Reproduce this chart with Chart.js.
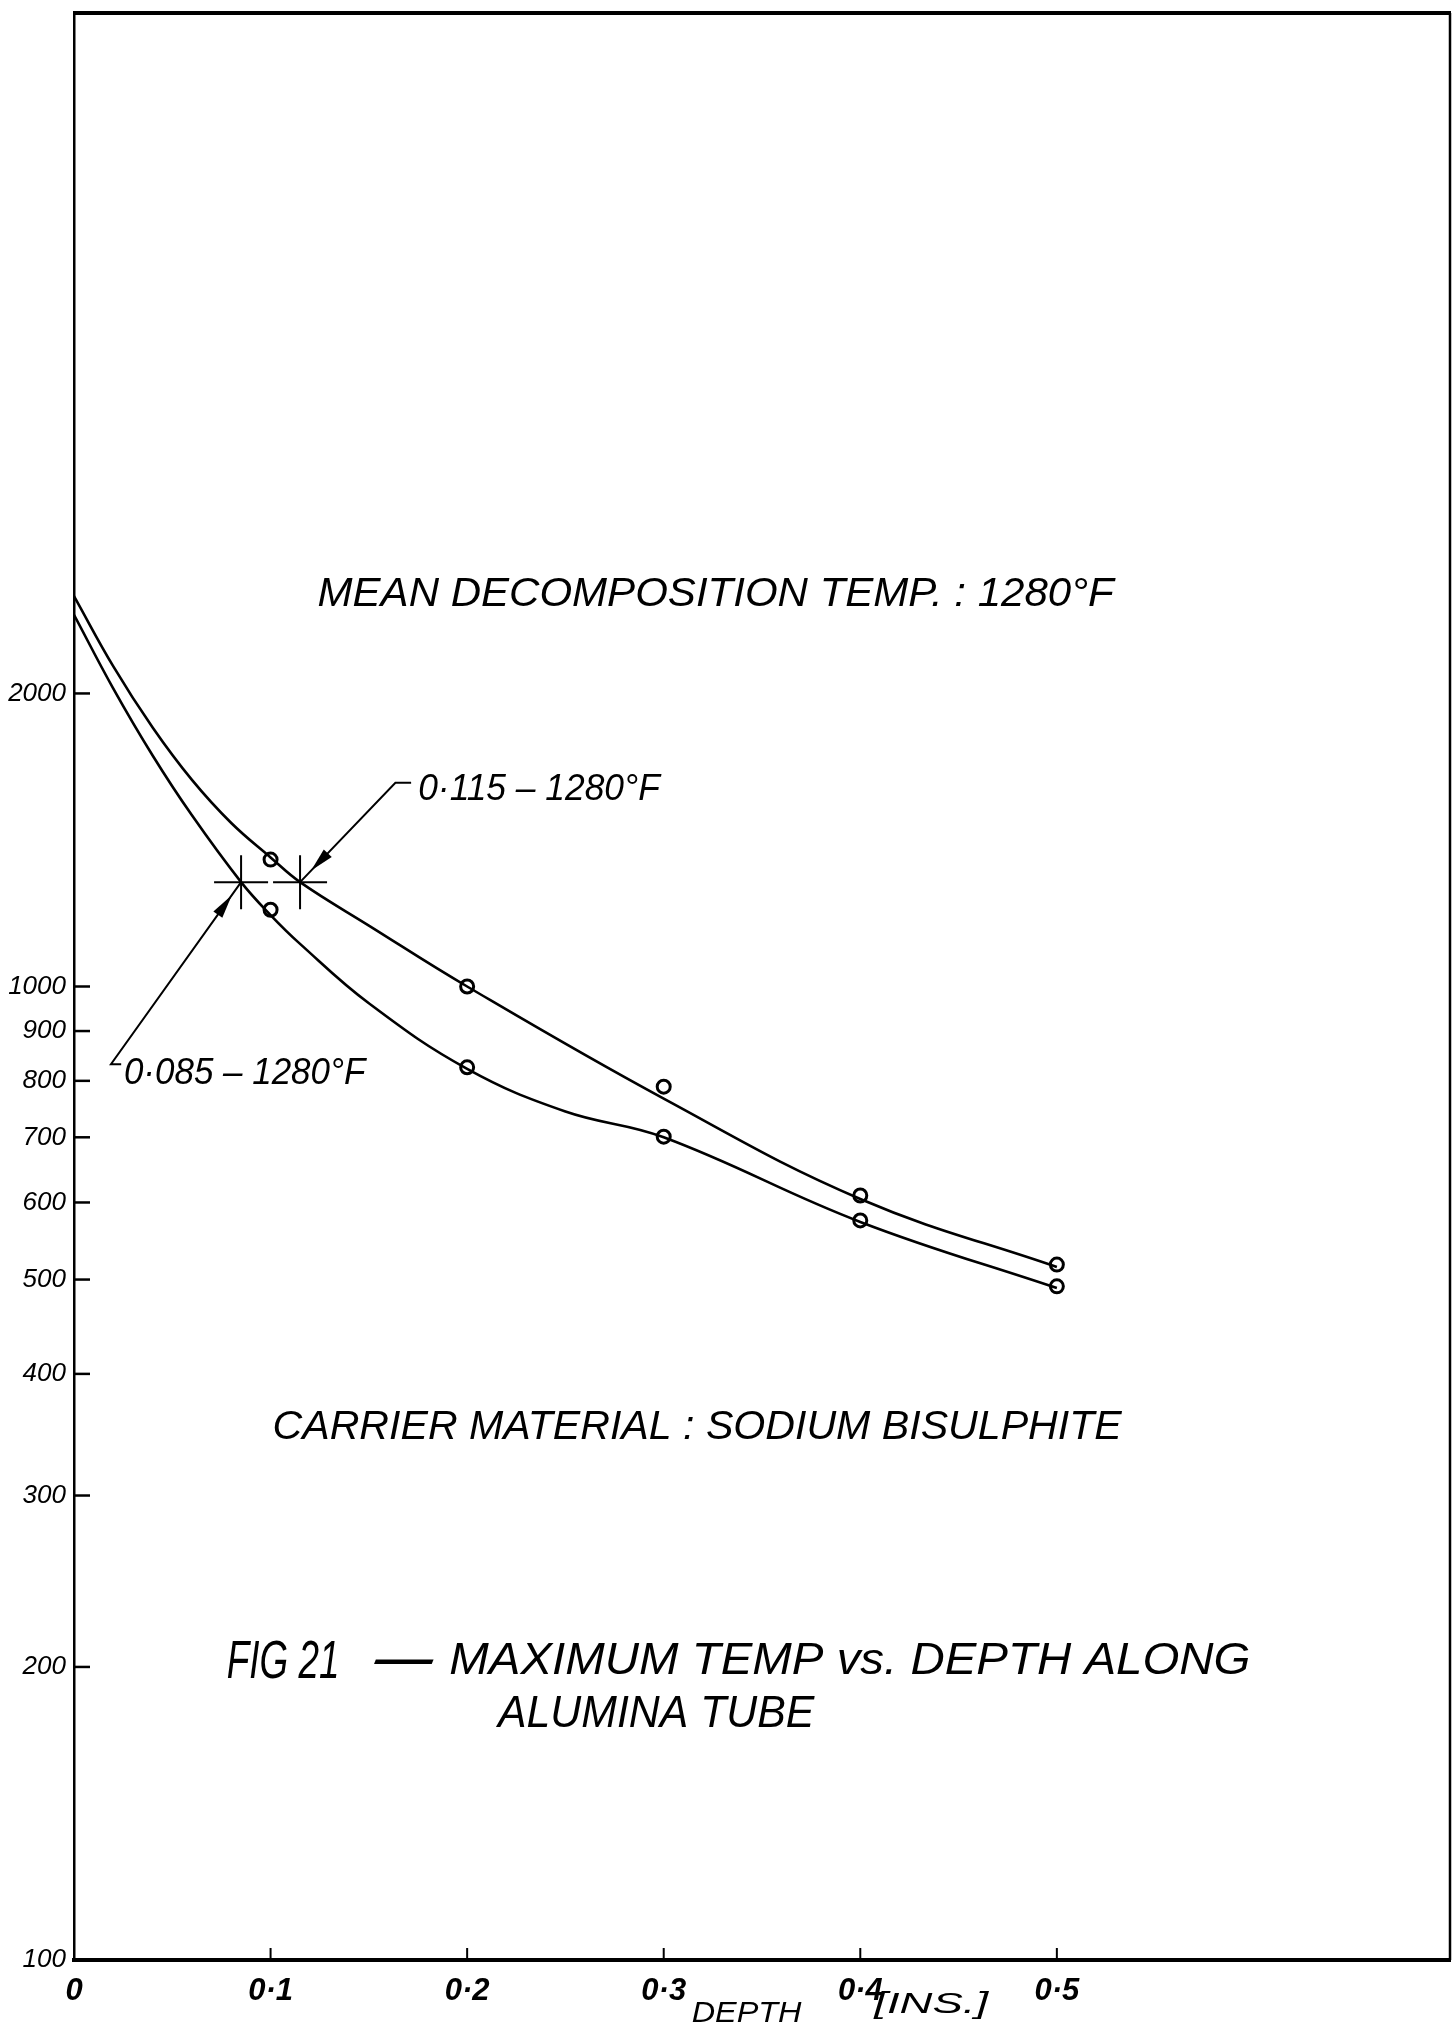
<!DOCTYPE html>
<html>
<head>
<meta charset="utf-8">
<script src="https://cdn.jsdelivr.net/npm/chart.js@4.4.1/dist/chart.umd.min.js"></script>
<style>
  html, body { margin: 0; padding: 0; background: #fff; }
  #wrap { width: 1455px; height: 2028px; }
</style>
</head>
<body>
<div id="wrap"><canvas id="fig21" width="1455" height="2028"></canvas></div>
<script>
// Axis ticks
const depthTicks = [0, 0.1, 0.2, 0.3, 0.4, 0.5];
const tempTicks = [100, 200, 300, 400, 500, 600, 700, 800, 900, 1000, 2000];

// Measured maximum temperatures (deg F) at each depth (ins.)
const depthMeasured = [0.1, 0.2, 0.3, 0.4, 0.5];
const tempUpper = [1350, 1000, 789, 610, 518];
const tempLower = [1199, 826, 701, 575, 492];

// Faired curves through the measurements
const upperCurveDepth = [0, 0.02, 0.04, 0.06, 0.08, 0.1, 0.115, 0.15, 0.2, 0.3, 0.4, 0.5];
const upperCurveTemp  = [2518, 2132, 1845, 1630, 1472, 1357, 1280, 1155, 1000, 767, 605, 515];
const lowerCurveDepth = [0, 0.02, 0.04, 0.06, 0.085, 0.1, 0.115, 0.15, 0.2, 0.25, 0.3, 0.4, 0.5];
const lowerCurveTemp  = [2409, 2023, 1727, 1499, 1280, 1184, 1106, 961, 823, 744, 700, 573, 490];

// Depths at which each curve reaches the mean decomposition temperature
const crossDepth = [0.085, 0.115];
const crossTemp = [1280, 1280];

const FONT = '"Liberation Sans", "DejaVu Sans", sans-serif';
const zip = (xs, ys) => xs.map((x, i) => ({ x, y: ys[i] }));

// Text squeezed/stretched to span a pixel range, vertically centred on yc
function fitText(ctx, str, x0, x1, yc, size, weight) {
  ctx.font = `italic ${weight || 'normal'} ${size}px ${FONT}`;
  const w = ctx.measureText(str).width;
  ctx.save();
  ctx.translate(x0, yc + 0.36 * size);
  ctx.scale((x1 - x0) / w, 1);
  ctx.textAlign = 'left';
  ctx.textBaseline = 'alphabetic';
  ctx.fillStyle = '#000';
  ctx.fillText(str, 0, 0);
  ctx.restore();
}

// Leader line with a filled arrowhead, ending at a crossing point
function leader(ctx, pts, tip) {
  ctx.save();
  ctx.strokeStyle = '#000';
  ctx.fillStyle = '#000';
  ctx.lineWidth = 2;
  ctx.beginPath();
  ctx.moveTo(pts[0][0], pts[0][1]);
  for (let i = 1; i < pts.length; i++) ctx.lineTo(pts[i][0], pts[i][1]);
  ctx.lineTo(tip[0], tip[1]);
  ctx.stroke();
  const from = pts[pts.length - 1];
  const dx = tip[0] - from[0], dy = tip[1] - from[1];
  const len = Math.hypot(dx, dy), ux = dx / len, uy = dy / len;
  const hx = tip[0] - ux * 16, hy = tip[1] - uy * 16;
  const bx = hx - ux * 24, by = hy - uy * 24;
  ctx.beginPath();
  ctx.moveTo(hx, hy);
  ctx.lineTo(bx - uy * 5.5, by + ux * 5.5);
  ctx.lineTo(bx + uy * 5.5, by - ux * 5.5);
  ctx.closePath();
  ctx.fill();
  ctx.restore();
}

const notes = {
  id: 'notes',
  afterDatasetsDraw(chart) {
    const { ctx, chartArea: a, scales: { x, y } } = chart;
    const px = v => x.getPixelForValue(v);
    const py = v => y.getPixelForValue(v);

    // frame: top and right edges
    ctx.save();
    ctx.strokeStyle = '#000';
    ctx.lineWidth = 4;
    ctx.beginPath();
    ctx.moveTo(a.left - 1, a.top);
    ctx.lineTo(a.right + 1, a.top);
    ctx.stroke();
    ctx.lineWidth = 2.5;
    ctx.beginPath();
    ctx.moveTo(a.right, a.top);
    ctx.lineTo(a.right, a.bottom);
    ctx.stroke();

    // inward tick marks
    ctx.lineWidth = 2.5;
    tempTicks.filter(t => t > 100).forEach(t => {
      ctx.beginPath();
      ctx.moveTo(a.left, py(t));
      ctx.lineTo(a.left + 16, py(t));
      ctx.stroke();
    });
    ctx.lineWidth = 2;
    depthTicks.filter(d => d > 0).forEach(d => {
      ctx.beginPath();
      ctx.moveTo(px(d), a.bottom);
      ctx.lineTo(px(d), a.bottom - 12);
      ctx.stroke();
    });
    ctx.restore();

    // captions
    fitText(ctx, 'MEAN DECOMPOSITION TEMP. : 1280°F', px(0.1239), px(0.5289), py(2542), 40);
    fitText(ctx, '0·115 – 1280°F', px(0.1751), px(0.298), py(1604), 36);
    fitText(ctx, '0·085 – 1280°F', px(0.0254), px(0.1482), py(818), 36);
    fitText(ctx, 'CARRIER MATERIAL : SODIUM BISULPHITE', px(0.101), px(0.533), py(355), 40);
    fitText(ctx, 'FIG 21', px(0.0777), px(0.135), py(204), 54);
    fitText(ctx, '–', px(0.1513), px(0.1843), py(204), 44, 'bold');
    fitText(ctx, 'MAXIMUM TEMP vs. DEPTH ALONG', px(0.1909), px(0.5985), py(204), 44);
    fitText(ctx, 'ALUMINA TUBE', px(0.2157), px(0.3766), py(180), 44);

    // axis title
    fitText(ctx, 'DEPTH', px(0.3142), px(0.3701), a.bottom + 51, 30);
    fitText(ctx, '[INS.]', px(0.4071), px(0.465), a.bottom + 42, 30);

    // leaders to the crossing points
    leader(ctx,
      [[px(0.1715), py(1619)], [px(0.1635), py(1619)]],
      [px(crossDepth[1]), py(crossTemp[1])]);
    leader(ctx,
      [[px(0.024), py(832)], [px(0.0188), py(832)]],
      [px(crossDepth[0]), py(crossTemp[0])]);
  }
};

const tickFont = { family: FONT, style: 'italic' };
const noScalePad = s => { s.paddingTop = 0; s.paddingBottom = 0; s.paddingLeft = 0; s.paddingRight = 0; };

new Chart(document.getElementById('fig21'), {
  type: 'line',
  data: {
    datasets: [
      {
        data: zip(upperCurveDepth, upperCurveTemp),
        borderColor: '#000', borderWidth: 2.6, pointRadius: 0,
        tension: 0.4, fill: false
      },
      {
        data: zip(lowerCurveDepth, lowerCurveTemp),
        borderColor: '#000', borderWidth: 2.6, pointRadius: 0,
        tension: 0.4, fill: false
      },
      {
        type: 'scatter',
        data: zip(depthMeasured, tempUpper),
        showLine: false, pointStyle: 'circle', pointRadius: 6.5,
        borderColor: '#000', borderWidth: 3, backgroundColor: 'rgba(0,0,0,0)'
      },
      {
        type: 'scatter',
        data: zip(depthMeasured, tempLower),
        showLine: false, pointStyle: 'circle', pointRadius: 6.5,
        borderColor: '#000', borderWidth: 3, backgroundColor: 'rgba(0,0,0,0)'
      },
      {
        type: 'scatter',
        data: zip(crossDepth, crossTemp),
        showLine: false, pointStyle: 'cross', pointRadius: 27,
        borderColor: '#000', borderWidth: 2, backgroundColor: '#000'
      }
    ]
  },
  options: {
    responsive: false,
    animation: false,
    events: [],
    layout: { autoPadding: false, padding: { top: 13, right: 5, left: 0, bottom: 0 } },
    plugins: { legend: { display: false }, tooltip: { enabled: false } },
    scales: {
      x: {
        type: 'linear', min: 0, max: 0.7,
        afterBuildTicks: s => { s.ticks = depthTicks.map(v => ({ value: v })); },
        afterFit: s => { s.height = 68; noScalePad(s); },
        grid: { display: false, drawTicks: false },
        border: { display: true, color: '#000', width: 4 },
        ticks: {
          color: '#000', padding: 13, maxRotation: 0, autoSkip: false,
          font: { ...tickFont, size: 31, weight: 'bold' },
          callback: v => (v === 0 ? '0' : v.toFixed(1).replace('.', '·'))
        }
      },
      y: {
        type: 'logarithmic', min: 100, max: 10000,
        afterBuildTicks: s => { s.ticks = tempTicks.map(v => ({ value: v })); },
        afterFit: s => { s.width = 74; noScalePad(s); },
        grid: { display: false, drawTicks: false },
        border: { display: true, color: '#000', width: 2.5 },
        ticks: {
          color: '#000', padding: 8, autoSkip: false,
          font: { ...tickFont, size: 26 },
          callback: v => String(v)
        }
      }
    }
  },
  plugins: [notes]
});
</script>
</body>
</html>
